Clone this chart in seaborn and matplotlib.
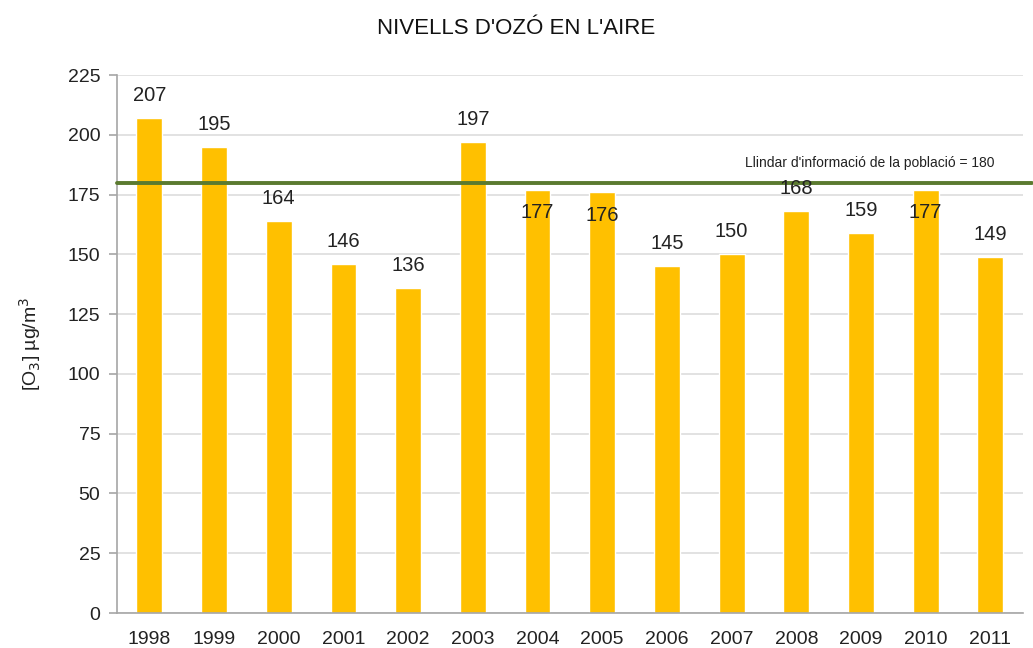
import seaborn as sns
import pandas as pd
import numpy as np
import matplotlib.pyplot as plt

years = ['1998', '1999', '2000', '2001', '2002', '2003', '2004',
         '2005', '2006', '2007', '2008', '2009', '2010', '2011']
ozone = [207, 195, 164, 146, 136, 197, 177, 176, 145, 150, 168, 159, 177, 149]
threshold = 180
threshold_label = "Llindar d'informació de la població = 180"

df = pd.DataFrame({'year': years, 'o3': ozone})

sns.set_style('white')
plt.rcParams['font.family'] = ['Liberation Sans', 'DejaVu Sans']

fig = plt.figure(figsize=(10.33, 6.48), dpi=100)
ax = fig.add_axes([0.1133, 0.054, 0.8767, 0.830])

sns.barplot(data=df, x='year', y='o3', color='#FFC000', width=0.4,
            saturation=1, ax=ax, zorder=2)

ax.set_ylim(0, 225)
ax.set_xlim(-0.5, len(years) - 0.5)
ax.set_yticks(np.arange(0, 226, 25))
ax.yaxis.grid(True, color='#DDDDDD', linewidth=1.2, zorder=0)
ax.set_axisbelow(True)

# threshold line runs a little past the plot area, like the original
ax.plot([-0.5, len(years) - 0.35], [threshold, threshold], color='#5B7A2F',
        linewidth=2.8, zorder=3, clip_on=False)
ax.text(0.969, threshold + 5.5, threshold_label, transform=ax.get_yaxis_transform(),
        ha='right', va='bottom', fontsize=10, color='#222222')

# value labels: those just under the threshold sit inside the bar
for i, v in enumerate(ozone):
    if threshold - 10 < v < threshold:
        ax.text(i, v - 9.5, str(v), ha='center', va='center', fontsize=14.5, color='#222222', zorder=4)
    else:
        ax.text(i, v + 9.5, str(v), ha='center', va='center', fontsize=14.5, color='#222222', zorder=4)

for s in ['top', 'right']:
    ax.spines[s].set_visible(False)
for s in ['left', 'bottom']:
    ax.spines[s].set_color('#A6A6A6')
    ax.spines[s].set_linewidth(1.2)

ax.tick_params(axis='y', length=6, width=1.2, color='#A6A6A6', labelsize=14,
               labelcolor='#222222', left=True, pad=6)
ax.tick_params(axis='x', length=0, labelsize=14, labelcolor='#222222', pad=13)
ax.set_xlabel('')
ax.set_ylabel('[O$_3$] µg/m$^3$', fontsize=14, color='#222222', labelpad=18)

fig.suptitle("NIVELLS D'OZÓ EN L'AIRE", fontsize=16, y=0.972, color='#111111')

fig.savefig('out.png', dpi=100)
